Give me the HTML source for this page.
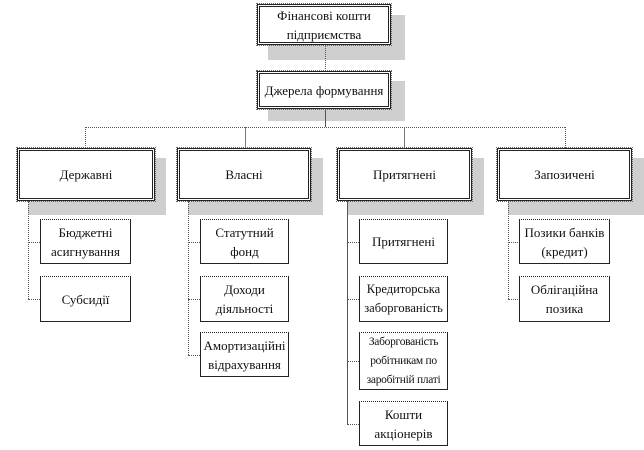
<!DOCTYPE html>
<html><head><meta charset="utf-8"><style>
body{margin:0;width:644px;height:450px;background:#fff;position:relative;overflow:hidden;font-family:"Liberation Serif",serif;font-size:13px;color:#111}
.b{position:absolute;box-sizing:border-box;display:flex;align-items:center;justify-content:center;text-align:center;line-height:19px;background:#fff}
.m{border:3px double #222;outline:1px dotted #666}
.c{border:1px solid #222;border-top:1px dotted #222}
.s{position:absolute;background:#cfcfcf}
.h{position:absolute;border-top:1px dotted #555;height:0}
.v{position:absolute;border-left:1px dotted #555;width:0}
</style></head><body>
<!-- shadows -->
<div class="s" style="left:268px;top:15px;width:137px;height:45px"></div>
<div class="s" style="left:268px;top:81px;width:137px;height:40px"></div>
<div class="s" style="left:28px;top:158px;width:138px;height:57px"></div>
<div class="s" style="left:188px;top:158px;width:135px;height:57px"></div>
<div class="s" style="left:348px;top:158px;width:136px;height:57px"></div>
<div class="s" style="left:508px;top:158px;width:136px;height:57px"></div>
<!-- connectors -->
<div class="v" style="left:325px;top:45px;height:26px"></div>
<div class="v" style="left:325px;top:109px;height:18px;border-left:1px solid #555"></div>
<div class="h" style="left:85px;top:127px;width:480px"></div>
<div class="v" style="left:85px;top:127px;height:21px"></div>
<div class="v" style="left:245px;top:127px;height:21px;border-left:1px solid #777"></div>
<div class="v" style="left:404px;top:127px;height:21px;border-left:1px solid #777"></div>
<div class="v" style="left:565px;top:127px;height:21px"></div>
<div class="v" style="left:28px;top:201px;height:98px"></div>
<div class="h" style="left:28px;top:242px;width:12px"></div>
<div class="h" style="left:28px;top:299px;width:12px"></div>
<div class="v" style="left:188px;top:201px;height:154px"></div>
<div class="h" style="left:188px;top:242px;width:12px"></div>
<div class="h" style="left:188px;top:299px;width:12px"></div>
<div class="h" style="left:188px;top:355px;width:12px"></div>
<div class="v" style="left:347px;top:201px;height:223px;border-left:1px solid #555"></div>
<div class="h" style="left:347px;top:242px;width:12px"></div>
<div class="h" style="left:347px;top:299px;width:12px"></div>
<div class="h" style="left:347px;top:361px;width:12px"></div>
<div class="h" style="left:347px;top:424px;width:12px"></div>
<div class="v" style="left:508px;top:201px;height:98px"></div>
<div class="h" style="left:508px;top:242px;width:12px"></div>
<div class="h" style="left:508px;top:299px;width:12px"></div>
<!-- main boxes -->
<div class="b m" style="left:257px;top:4px;width:134px;height:41px">Фінансові кошти<br>підприємства</div>
<div class="b m" style="left:257px;top:71px;width:134px;height:38px">Джерела формування</div>
<div class="b m" style="left:17px;top:148px;width:138px;height:53px">Державні</div>
<div class="b m" style="left:177px;top:148px;width:134px;height:53px">Власні</div>
<div class="b m" style="left:337px;top:148px;width:135px;height:53px">Притягнені</div>
<div class="b m" style="left:497px;top:148px;width:135px;height:53px">Запозичені</div>
<!-- children -->
<div class="b c" style="left:40px;top:219px;width:91px;height:45px">Бюджетні<br>асигнування</div>
<div class="b c" style="left:40px;top:276px;width:91px;height:46px">Субсидії</div>
<div class="b c" style="left:200px;top:219px;width:89px;height:45px">Статутний<br>фонд</div>
<div class="b c" style="left:200px;top:276px;width:89px;height:46px">Доходи<br>діяльності</div>
<div class="b c" style="left:200px;top:332px;width:89px;height:45px">Амортизаційні<br>відрахування</div>
<div class="b c" style="left:359px;top:219px;width:89px;height:45px">Притягнені</div>
<div class="b c" style="left:359px;top:276px;width:89px;height:46px;font-size:12.5px">Кредиторська<br>заборгованість</div>
<div class="b c" style="left:359px;top:332px;width:89px;height:58px;font-size:11.5px;letter-spacing:-0.3px">Заборгованість<br>робітникам по<br>заробітній платі</div>
<div class="b c" style="left:359px;top:401px;width:89px;height:45px">Кошти<br>акціонерів</div>
<div class="b c" style="left:519px;top:219px;width:91px;height:45px">Позики банків<br>(кредит)</div>
<div class="b c" style="left:519px;top:276px;width:91px;height:46px">Облігаційна<br>позика</div>
</body></html>
